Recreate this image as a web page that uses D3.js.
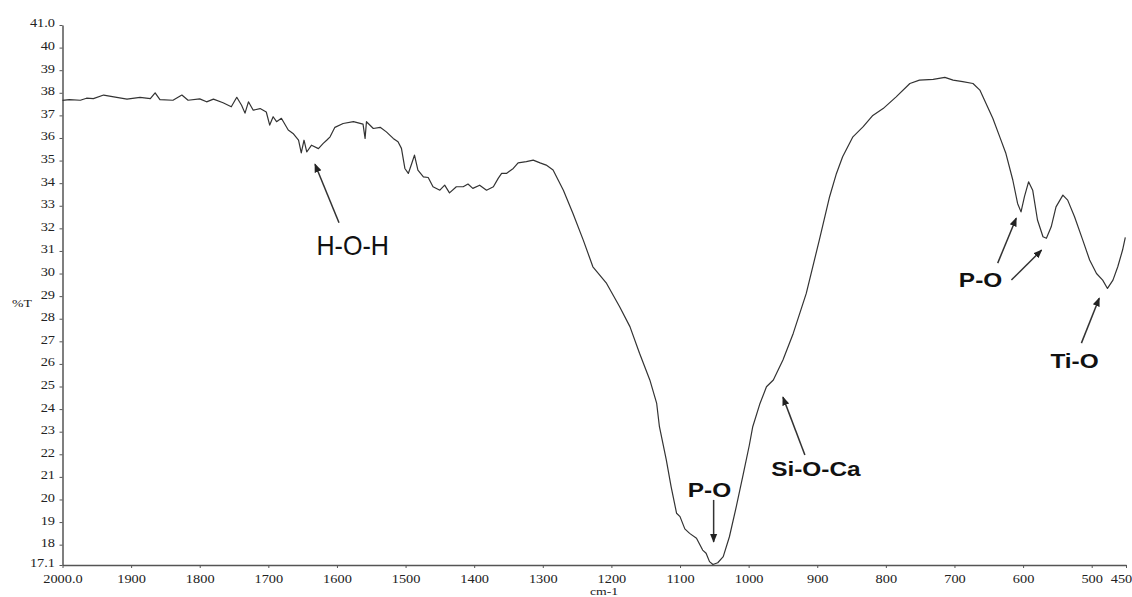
<!DOCTYPE html>
<html>
<head>
<meta charset="utf-8">
<script src="https://cdn.jsdelivr.net/npm/d3@7"></script>
<style>
  html, body { margin: 0; padding: 0; background: #fff; }
  svg { display: block; }
</style>
</head>
<body>
<svg id="chart" width="1132" height="597"></svg>
<script>
"use strict";

// wavenumber (cm-1) and %T
const wavenumber = [
  2000, 1990, 1974, 1965, 1955, 1940, 1921, 1906, 1887, 1872, 1865, 1858,
  1839, 1826, 1817, 1800, 1790, 1780, 1766, 1754, 1746, 1739, 1734, 1729,
  1722, 1712, 1703, 1698, 1693, 1688, 1681, 1671, 1664, 1656, 1652, 1648,
  1644, 1637, 1627, 1620, 1615, 1610, 1603, 1591, 1576, 1562, 1559, 1557,
  1547, 1537, 1528, 1518, 1511, 1506, 1501, 1496, 1491, 1487, 1482, 1474,
  1467, 1460, 1450, 1443, 1436, 1426, 1416, 1409, 1402, 1392, 1382, 1372,
  1365, 1360, 1353, 1343, 1336, 1324, 1314, 1304, 1295, 1285, 1270, 1256,
  1241, 1227, 1207, 1188, 1173, 1159, 1144, 1134, 1130, 1120, 1113, 1105,
  1100, 1093, 1086, 1076, 1067, 1062, 1057, 1052, 1045, 1037, 1028, 1018,
  1008, 999, 994, 984, 974, 964, 950, 935, 916, 897, 882, 872,
  863, 848, 833, 819, 804, 785, 765, 751, 731, 714, 702, 688,
  673, 663, 654, 644, 634, 625, 615, 608, 603, 598, 592, 586,
  579, 571, 566, 559, 552, 542, 535, 525, 513, 503, 493, 484,
  477, 469, 462, 455, 451
];
const transmittance = [
  37.66, 37.70, 37.67, 37.76, 37.74, 37.90, 37.80, 37.72, 37.80, 37.74, 38.00, 37.70,
  37.67, 37.90, 37.67, 37.73, 37.60, 37.72, 37.56, 37.38, 37.80, 37.45, 37.10, 37.60,
  37.23, 37.30, 37.15, 36.57, 36.94, 36.72, 36.87, 36.35, 36.20, 35.90, 35.34, 35.90,
  35.38, 35.68, 35.53, 35.76, 35.90, 36.05, 36.47, 36.64, 36.72, 36.61, 35.98, 36.72,
  36.42, 36.47, 36.27, 35.98, 35.83, 35.54, 34.65, 34.43, 34.87, 35.24, 34.58, 34.28,
  34.25, 33.84, 33.69, 33.91, 33.57, 33.84, 33.84, 33.96, 33.77, 33.91, 33.69, 33.84,
  34.21, 34.43, 34.43, 34.65, 34.90, 34.95, 35.02, 34.90, 34.80, 34.58, 33.69, 32.66,
  31.48, 30.30, 29.56, 28.53, 27.65, 26.47, 25.29, 24.25, 23.22, 21.75, 20.57, 19.39,
  19.24, 18.70, 18.50, 18.28, 17.76, 17.62, 17.25, 17.12, 17.20, 17.47, 18.35, 19.68,
  21.10, 22.40, 23.22, 24.20, 24.99, 25.29, 26.17, 27.35, 29.12, 31.48, 33.40, 34.43,
  35.17, 36.05, 36.50, 37.00, 37.30, 37.82, 38.41, 38.56, 38.59, 38.68, 38.56, 38.49,
  38.41, 38.12, 37.53, 36.86, 36.05, 35.31, 34.14, 33.10, 32.73, 33.40, 34.06, 33.69,
  32.37, 31.63, 31.56, 32.07, 32.95, 33.47, 33.25, 32.51, 31.48, 30.60, 30.00, 29.71,
  29.34, 29.71, 30.30, 31.04, 31.60
];

const xTicks = [2000, 1900, 1800, 1700, 1600, 1500, 1400, 1300, 1200, 1100, 1000, 900, 800, 700, 600, 500, 450];
const yTicks = [17.1, 18, 19, 20, 21, 22, 23, 24, 25, 26, 27, 28, 29, 30, 31, 32, 33, 34, 35, 36, 37, 38, 39, 40, 41];

// band labels: text position and arrow (tail -> tip), all in data units
const bandLabels = [
  { text: "H-O-H", w: 1577, v: 30.80, bold: false },
  { text: "P-O", w: 1057, v: 20.11, bold: true },
  { text: "Si-O-Ca", w: 902, v: 21.04, bold: true },
  { text: "P-O", w: 662, v: 29.41, bold: true },
  { text: "Ti-O", w: 525, v: 25.80, bold: true }
];
const bandArrows = [
  { w0: 1597, v0: 32.25, w1: 1632, v1: 34.84 },
  { w0: 1051, v0: 19.98, w1: 1051, v1: 18.12 },
  { w0: 918, v0: 21.97, w1: 950, v1: 24.53 },
  { w0: 637, v0: 30.46, w1: 610, v1: 32.45 },
  { w0: 617, v0: 29.71, w1: 573, v1: 31.04 },
  { w0: 515, v0: 26.92, w1: 489, v1: 28.91 }
];

const svg = d3.select("#chart");
const plotLeft = 62.5, plotRight = 1126, plotTop = 25, plotBottom = 565;

const x = d3.scaleLinear().domain([2000, 450]).range([plotLeft, plotRight]);
const y = d3.scaleLinear().domain([17.1, 41]).range([plotBottom, plotTop]);

const tickFont = "'Liberation Serif', 'Times New Roman', serif";
const stretch = 1.25;

// y axis
const yAxis = svg.append("g")
  .attr("transform", "translate(" + plotLeft + ",0)")
  .call(d3.axisLeft(y)
    .tickValues(yTicks)
    .tickSize(3)
    .tickSizeOuter(0)
    .tickFormat(d => d === 17.1 ? "17.1" : d === 41 ? "41.0" : d));
yAxis.select(".domain").attr("stroke", "#555").attr("stroke-width", 1.5);
yAxis.selectAll(".tick line").attr("stroke", "#555");
yAxis.selectAll(".tick text")
  .attr("x", -7.5 / stretch)
  .attr("dy", "0.17em")
  .attr("transform", "scale(" + stretch + ",1)")
  .attr("fill", "#222")
  .style("font-family", tickFont)
  .style("font-size", "11.5px");

// x axis
const xAxis = svg.append("g")
  .attr("transform", "translate(0," + plotBottom + ")")
  .call(d3.axisBottom(x)
    .tickValues(xTicks)
    .tickSize(3)
    .tickSizeOuter(0)
    .tickFormat(d => d === 2000 ? "2000.0" : d));
xAxis.select(".domain").attr("stroke", "#555").attr("stroke-width", 1.5);
xAxis.selectAll(".tick line").attr("stroke", "#555");
xAxis.selectAll(".tick text")
  .attr("y", 10)
  .attr("x", d => d === 450 ? -5 / stretch : 0)
  .attr("transform", "scale(" + stretch + ",1)")
  .attr("fill", "#222")
  .style("font-family", tickFont)
  .style("font-size", "11.5px");

// axis titles
svg.append("text")
  .attr("transform", "translate(22,307) scale(" + stretch + ",1)")
  .attr("text-anchor", "middle")
  .attr("fill", "#222")
  .style("font-family", tickFont)
  .style("font-size", "11px")
  .text("%T");

svg.append("text")
  .attr("transform", "translate(604,595) scale(" + stretch + ",1)")
  .attr("text-anchor", "middle")
  .attr("fill", "#222")
  .style("font-family", tickFont)
  .style("font-size", "11px")
  .text("cm-1");

// spectrum
const points = wavenumber.map((w, i) => [w, transmittance[i]]);
svg.append("path")
  .datum(points)
  .attr("fill", "none")
  .attr("stroke", "#333")
  .attr("stroke-width", 1.2)
  .attr("stroke-linejoin", "round")
  .attr("d", d3.line().x(d => x(d[0])).y(d => y(d[1])));

// arrows
svg.append("defs").append("marker")
  .attr("id", "head")
  .attr("viewBox", "0 0 10 10")
  .attr("refX", 9)
  .attr("refY", 5)
  .attr("markerWidth", 6)
  .attr("markerHeight", 6)
  .attr("markerUnits", "strokeWidth")
  .attr("orient", "auto")
  .append("path")
  .attr("d", "M0,1 L10,5 L0,9 z")
  .attr("fill", "#222");

svg.append("g").selectAll("line")
  .data(bandArrows)
  .enter().append("line")
  .attr("x1", d => x(d.w0))
  .attr("y1", d => y(d.v0))
  .attr("x2", d => x(d.w1))
  .attr("y2", d => y(d.v1))
  .attr("stroke", "#333")
  .attr("stroke-width", 1.5)
  .attr("marker-end", "url(#head)");

// band labels
svg.append("g").selectAll("text")
  .data(bandLabels)
  .enter().append("text")
  .attr("transform", d => "translate(" + x(d.w) + "," + y(d.v) + ")" +
    (d.bold ? " scale(1.22,1)" : " scale(0.93,1)"))
  .attr("text-anchor", "middle")
  .attr("fill", "#111")
  .style("font-family", "'Liberation Sans', Arial, sans-serif")
  .style("font-weight", d => d.bold ? "bold" : "normal")
  .style("font-size", d => d.bold ? "20px" : "27px")
  .text(d => d.text);
</script>
</body>
</html>
